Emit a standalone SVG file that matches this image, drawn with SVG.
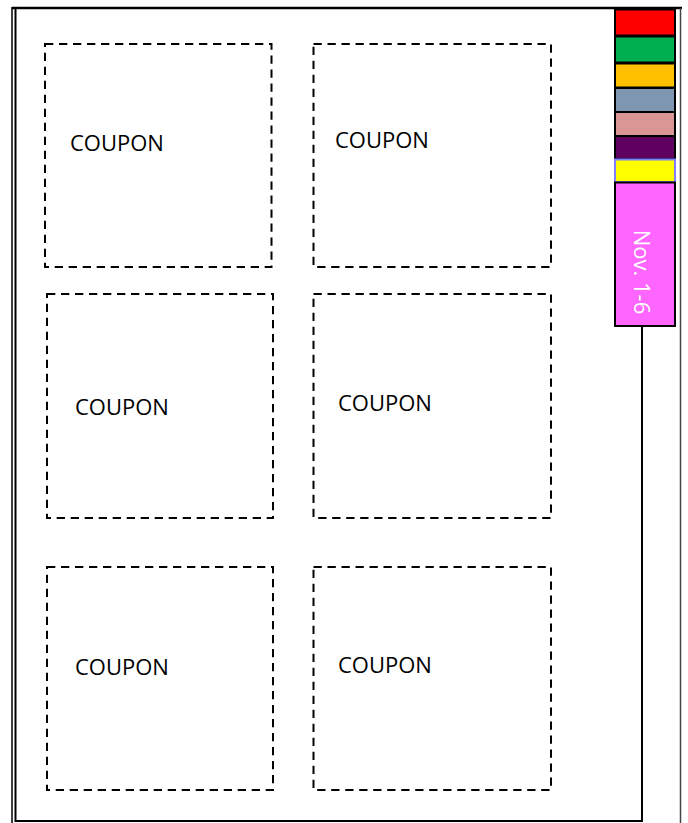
<svg xmlns="http://www.w3.org/2000/svg" width="688" height="823" viewBox="0 0 688 823">
<style>
.frame{fill:none;stroke:#000;stroke-width:2}
.coupon{fill:none;stroke:#000;stroke-width:2;stroke-dasharray:8.3 5.7}
.lbl{font-family:"Open Sans","Liberation Sans",sans-serif;font-size:22px;fill:#000}
.tab{stroke:#000;stroke-width:2}
</style>
<rect width="688" height="823" fill="#fff"/>
<g id="frame">
<line x1="12" y1="8" x2="682" y2="8" stroke="#000" stroke-width="2.5"/>
<line x1="12" y1="7" x2="12" y2="823" stroke="#000" stroke-width="1.5"/>
<line x1="680.5" y1="8" x2="680.5" y2="823" stroke="#444" stroke-width="1.5"/>
<rect x="15.5" y="8" width="626.5" height="813" class="frame"/>
</g>
<g id="tab">
<rect x="615" y="9.5" width="60" height="26" fill="#FF0000" class="tab"/>
<rect x="615" y="36.5" width="60" height="26" fill="#00B050" class="tab"/>
<rect x="615" y="63.5" width="60" height="24" fill="#FFC000" class="tab"/>
<rect x="615" y="88" width="60" height="24" fill="#7F97B3" class="tab"/>
<rect x="615" y="112" width="60" height="24" fill="#DA9694" class="tab"/>
<rect x="615" y="136" width="60" height="23" fill="#600060" class="tab"/>
<rect x="615" y="159.5" width="60" height="22.5" fill="#FFFF00" stroke="#7F7FFF" stroke-width="2"/>
<rect x="615" y="182.5" width="60" height="143.5" fill="#FF66FF" class="tab"/>
<text x="643" y="272" transform="rotate(90 643 272)" text-anchor="middle" dominant-baseline="central" font-family="Open Sans, Liberation Sans, sans-serif" font-size="22" fill="#fff">Nov. 1-6</text>
</g>
<g id="coupon1"><rect x="45" y="44" width="226.5" height="223" class="coupon"/><text x="70" y="151" class="lbl">COUPON</text></g>
<g id="coupon2"><rect x="313.5" y="44" width="237.5" height="223" class="coupon"/><text x="335" y="148" class="lbl">COUPON</text></g>
<g id="coupon3"><rect x="47" y="294" width="226" height="224" class="coupon"/><text x="75" y="415" class="lbl">COUPON</text></g>
<g id="coupon4"><rect x="313.5" y="294" width="237.5" height="224" class="coupon"/><text x="338" y="411" class="lbl">COUPON</text></g>
<g id="coupon5"><rect x="47" y="567" width="226" height="223" class="coupon"/><text x="75" y="675" class="lbl">COUPON</text></g>
<g id="coupon6"><rect x="313.5" y="567" width="237.5" height="223" class="coupon"/><text x="338" y="673" class="lbl">COUPON</text></g>
<g id="connectors"></g>
</svg>
